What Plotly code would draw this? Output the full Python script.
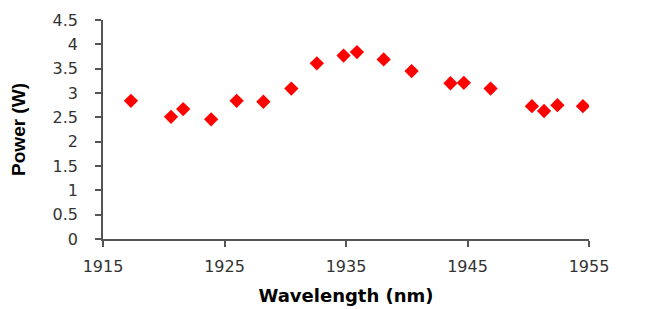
import plotly.graph_objects as go

wavelength_nm = [1917.3, 1920.6, 1921.6, 1923.9, 1926.0, 1928.2, 1930.5, 1932.6,
                 1934.8, 1935.9, 1938.1, 1940.4, 1943.6, 1944.7, 1946.9, 1950.3,
                 1951.3, 1952.4, 1954.5]
power_w = [2.84, 2.51, 2.67, 2.46, 2.84, 2.82, 3.09, 3.61, 3.77, 3.84, 3.69,
           3.45, 3.20, 3.21, 3.09, 2.73, 2.63, 2.75, 2.73]

x_ticks = [1915, 1925, 1935, 1945, 1955]
y_ticks = [0, 0.5, 1, 1.5, 2, 2.5, 3, 3.5, 4, 4.5]
y_tick_labels = ["0", "0.5", "1", "1.5", "2", "2.5", "3", "3.5", "4", "4.5"]

fig = go.Figure()
fig.add_trace(go.Scatter(
    x=wavelength_nm, y=power_w, mode="markers",
    marker=dict(symbol="diamond", size=11, color="#ff0000", line=dict(width=0)),
    showlegend=False,
))

axis_color = "#555555"
tick_font = dict(family="DejaVu Sans", size=16, color="#333333")

fig.update_layout(
    width=656, height=301,
    margin=dict(l=95, r=75, t=12, b=70, autoexpand=False),
    paper_bgcolor="white", plot_bgcolor="white",
    xaxis=dict(
        range=[1915, 1955], tickmode="array", tickvals=x_ticks,
        ticktext=[str(v) for v in x_ticks], automargin=False,
        showgrid=False, zeroline=False, showline=True, linecolor=axis_color,
        linewidth=1.5, ticks="outside", ticklen=6, tickcolor=axis_color,
        tickwidth=1.5, tickfont=tick_font, ticklabelstandoff=6,
        title=dict(text="<b>Wavelength (nm)</b>", font=dict(family="DejaVu Sans", size=18, color="black"),
                   standoff=14),
    ),
    yaxis=dict(
        range=[0, 4.5], tickmode="array", tickvals=y_ticks, ticktext=y_tick_labels,
        automargin=False,
        showgrid=False, zeroline=False, showline=True, linecolor=axis_color,
        linewidth=1.5, ticks="outside", ticklen=6, tickcolor=axis_color,
        tickwidth=1.5, tickfont=tick_font, ticklabelstandoff=14,
        title=dict(text="<b>Power (W)</b>", font=dict(family="Liberation Sans", size=19, color="black"),
                   standoff=22),
    ),
)

fig.write_html("out.html")
